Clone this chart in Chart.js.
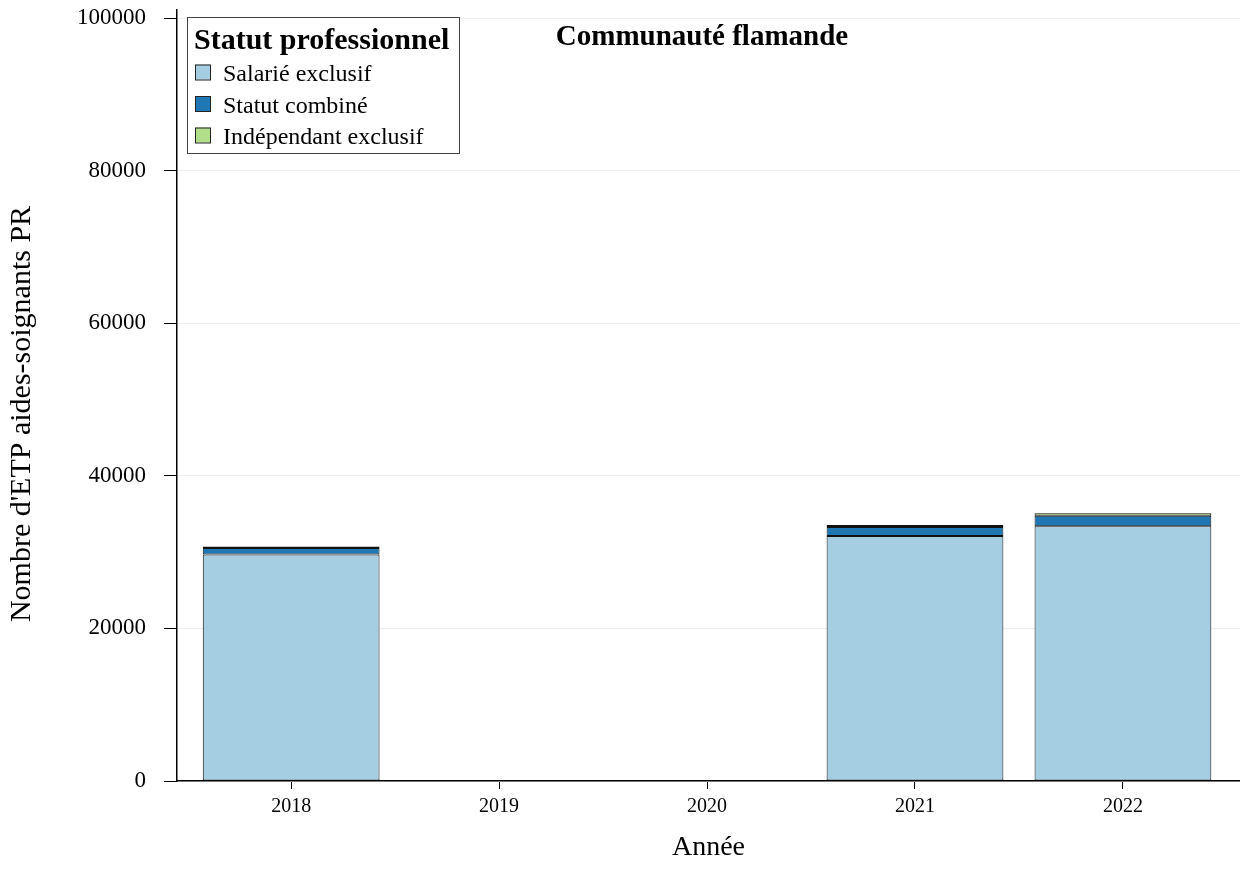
<!DOCTYPE html>
<html>
<head>
<meta charset="utf-8">
<script src="https://cdn.jsdelivr.net/npm/chart.js@4/dist/chart.umd.min.js"></script>
<style>
  html, body { margin: 0; padding: 0; background: #fff; }
  #wrap { width: 1240px; height: 870px; }
</style>
</head>
<body>
<div id="wrap"><canvas id="graficoBarras"></canvas></div>
<script>
const annees = [2018, 2019, 2020, 2021, 2022];
const salarieExclusif = [29700, null, null, 32100, 33400];
const statutCombine = [850, null, null, 1180, 1350];
const independantExclusif = [200, null, null, 260, 330];
const yTicks = [0, 20000, 40000, 60000, 80000, 100000];

const serif = 'Liberation Serif';

function points(vals) {
    return annees.map((a, i) => ({ x: a, y: vals[i] }));
}

// legende encadree, titre et titre de l'axe y
const legendeBoite = {
    id: 'legendeBoite',
    afterDraw(chart) {
        const ctx = chart.ctx;
        ctx.save();
        ctx.fillStyle = '#fff';
        ctx.fillRect(187, 17, 272, 136);
        ctx.strokeStyle = '#444';
        ctx.lineWidth = 1;
        ctx.strokeRect(187.5, 17.5, 272, 136);
        ctx.fillStyle = '#000';
        ctx.textBaseline = 'alphabetic';
        ctx.font = 'bold 30px "' + serif + '"';
        ctx.fillText('Statut professionnel', 194, 49);
        ctx.font = '24px "' + serif + '"';
        chart.data.datasets.forEach((ds, i) => {
            const yc = 72 + i * 31.5;
            ctx.fillStyle = ds.backgroundColor;
            ctx.fillRect(195, yc - 7.5, 15, 15);
            ctx.strokeStyle = '#222';
            ctx.strokeRect(195.5, yc - 7, 15, 15);
            ctx.fillStyle = '#000';
            ctx.fillText(ds.label, 223, yc + 9);
        });
        ctx.font = 'bold 29px "' + serif + '"';
        ctx.textAlign = 'center';
        ctx.fillText('Communauté flamande', 702, 45);

        ctx.translate(22, 414);
        ctx.rotate(-Math.PI / 2);
        ctx.textBaseline = 'middle';
        ctx.font = '30px "' + serif + '"';
        ctx.fillText("Nombre d'ETP aides-soignants PR", 0, 0);
        ctx.restore();
    }
};

const ctxBarras = document.getElementById('graficoBarras').getContext('2d');
const graficoBarras = new Chart(ctxBarras, {
    type: 'bar',
    data: {
        datasets: [{
            label: 'Salarié exclusif',
            data: points(salarieExclusif),
            backgroundColor: '#a6cee3'
        }, {
            label: 'Statut combiné',
            data: points(statutCombine),
            backgroundColor: '#1f78b4'
        }, {
            label: 'Indépendant exclusif',
            data: points(independantExclusif),
            backgroundColor: '#b2df8a'
        }]
    },
    options: {
        responsive: true,
        maintainAspectRatio: false,
        animation: false,
        layout: { padding: { top: 10, right: 0, left: 0, bottom: 0 } },
        datasets: {
            bar: {
                borderColor: '#111',
                borderWidth: 1,
                borderSkipped: false,
                categoryPercentage: 0.85,
                barPercentage: 1
            }
        },
        scales: {
            x: {
                type: 'linear',
                stacked: true,
                offset: false,
                min: 2017.451,
                max: 2022.563,
                afterFit: (s) => { s.height = 89; s.paddingLeft = 0; s.paddingRight = 0; },
                afterBuildTicks: (s) => { s.ticks = annees.map(v => ({ value: v })); },
                border: { color: '#000', width: 1.5 },
                grid: { offset: false, drawOnChartArea: false, tickLength: 8, color: '#000' },
                ticks: {
                    includeBounds: false,
                    stepSize: 1,
                    padding: 6,
                    color: '#000',
                    font: { family: serif, size: 20 },
                    callback: (v) => String(v)
                },
                title: {
                    display: true,
                    text: 'Année',
                    color: '#000',
                    font: { family: serif, size: 28 },
                    padding: { top: 4, bottom: 6 }
                }
            },
            y: {
                stacked: true,
                min: 0,
                max: 101050,
                afterFit: (s) => { s.width = 177; s.paddingTop = 0; s.paddingBottom = 0; },
                afterBuildTicks: (s) => { s.ticks = yTicks.map(v => ({ value: v })); },
                border: { color: '#000', width: 1.5 },
                grid: { color: '#eeeeee', tickColor: '#000', tickLength: 13 },
                ticks: {
                    padding: 18,
                    color: '#000',
                    font: { family: serif, size: 23 },
                    callback: (v) => String(v)
                }
            }
        },
        plugins: {
            legend: { display: false },
            tooltip: { enabled: false }
        }
    },
    plugins: [legendeBoite]
});
</script>
</body>
</html>
